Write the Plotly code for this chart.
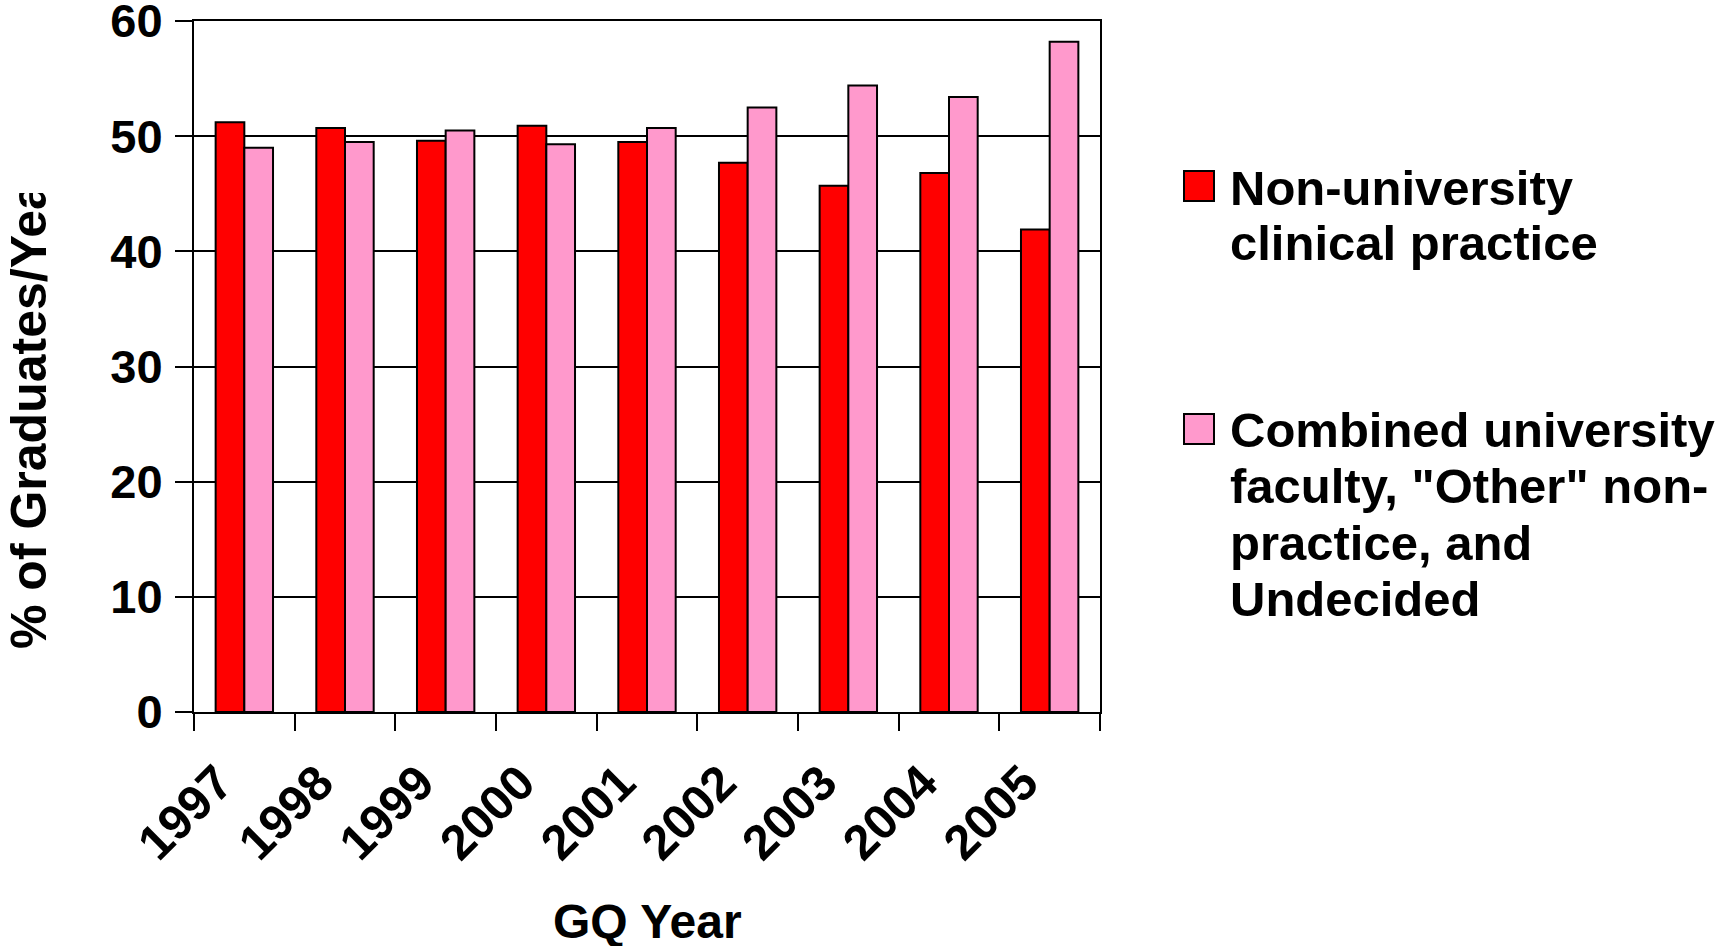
import plotly.graph_objects as go

# ---- data ----
years = ["1997", "1998", "1999", "2000", "2001", "2002", "2003", "2004", "2005"]
non_university = [51.2, 50.7, 49.6, 50.9, 49.5, 47.7, 45.7, 46.8, 41.9]
combined = [49.0, 49.5, 50.5, 49.3, 50.7, 52.5, 54.4, 53.4, 58.2]
series_names = ["Non-university clinical practice",
                "Combined university faculty, \"Other\" non-practice, and Undecided"]
legend_lines = [["Non-university", "clinical practice"],
                ["Combined university", "faculty, \"Other\" non-", "practice, and", "Undecided"]]
colors = ["#FF0000", "#FF99CC"]
y_ticks = [0, 10, 20, 30, 40, 50, 60]
x_title = "GQ Year"
y_title = "% of Graduates/Year"

# ---- layout geometry (pixels) ----
W, H = 1717, 946
L, R, T, B = 194, 617, 21, 234
PW, PH = W - L - R, H - T - B


def px(x):
    return (x - L) / PW


def py(y):
    return (H - B - y) / PH


FONT = "Liberation Sans, Arial, sans-serif"

fig = go.Figure()
for name, vals, col in zip(series_names, [non_university, combined], colors):
    fig.add_trace(go.Bar(
        x=years, y=vals, name=name,
        marker=dict(color=col, line=dict(color="black", width=2)),
        showlegend=False,
    ))

fig.update_layout(
    width=W, height=H, autosize=False,
    margin=dict(l=L, r=R, t=T, b=B, pad=0, autoexpand=False),
    paper_bgcolor="white", plot_bgcolor="white",
    barmode="group", bargap=0.43, bargroupgap=0,
    font=dict(family=FONT, color="black", size=44, weight="bold"),
    showlegend=False,
)
fig.update_xaxes(
    type="category", tickson="boundaries", ticks="outside", ticklen=17,
    tickwidth=2, tickcolor="black", showline=True, linecolor="black",
    linewidth=2, mirror=True, showgrid=False, tickangle=-45, automargin=False,
    ticklabelshift=-26, ticklabelstandoff=20, ticklabeloverflow="allow",
    tickfont=dict(family=FONT, size=49, color="black", weight="bold"),
)
fig.update_yaxes(
    range=[0, 60], tickvals=y_ticks, ticks="outside", ticklen=17,
    tickwidth=2, tickcolor="black", showline=True, linecolor="black",
    linewidth=2, mirror=True, showgrid=True, gridcolor="black", gridwidth=1.5,
    zeroline=False, ticklabelstandoff=3, ticklabeloverflow="allow",
    automargin=False,
    tickfont=dict(family=FONT, size=47, color="black", weight="bold"),
)

annotations = []
# x-axis title
annotations.append(dict(
    text=x_title, xref="paper", yref="paper", x=px(647), y=py(921),
    xanchor="center", yanchor="middle", showarrow=False,
    font=dict(family=FONT, size=48, color="black", weight="bold"),
))
# y-axis title (clipped like the original)
annotations.append(dict(
    text=y_title, xref="paper", yref="paper", x=px(29), y=py(421),
    xanchor="center", yanchor="middle", showarrow=False, textangle=-90,
    width=456, height=64, align="left",
    font=dict(family=FONT, size=50, color="black", weight="bold"),
))

# legend (drawn manually to match large swatches)
swatch_tops = [171, 414]
line_centers = [[188, 243], [430, 486, 543, 599]]
shapes = []
for col, top, lines, centers in zip(colors, swatch_tops, legend_lines, line_centers):
    shapes.append(dict(
        type="rect", xref="paper", yref="paper",
        x0=px(1184), x1=px(1214), y0=py(top + 30), y1=py(top),
        fillcolor=col, line=dict(color="black", width=2),
    ))
    for ln, cy in zip(lines, centers):
        annotations.append(dict(
            text=ln, xref="paper", yref="paper", x=px(1228), y=py(cy),
            xanchor="left", yanchor="middle", showarrow=False,
            font=dict(family=FONT, size=49, color="black", weight="bold"),
        ))

fig.update_layout(annotations=annotations, shapes=shapes)
fig.write_html("out.html")
